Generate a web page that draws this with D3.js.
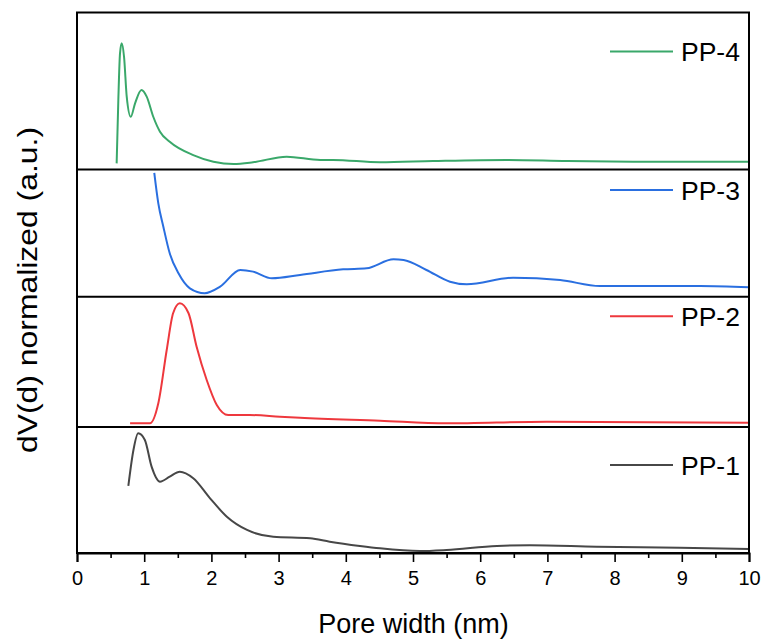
<!DOCTYPE html>
<html>
<head>
<meta charset="utf-8">
<script src="https://cdn.jsdelivr.net/npm/d3@7"></script>
<style>
  body { margin: 0; background: #fff; }
  text { font-family: "Liberation Sans", Arial, sans-serif; fill: #000; }
</style>
</head>
<body>
<div id="chart"></div>
<script>
var width = 767,
    height = 640,
    margin = { top: 12.5, right: 18, bottom: 87, left: 77 };

// pore width (nm) and normalized dV(d) for each sample
var pp4Width = [0.59, 0.615, 0.64, 0.665, 0.70, 0.74, 0.80, 0.863, 0.96, 1.037, 1.135, 1.235, 1.38, 1.73, 2.03, 2.33, 2.62, 3.12, 3.62, 3.81, 4.51, 5.30, 6.39, 7.29, 8.28, 10];
var pp4Value = [0.039, 0.443, 0.74, 0.804, 0.718, 0.464, 0.336, 0.42, 0.506, 0.464, 0.336, 0.241, 0.177, 0.092, 0.050, 0.035, 0.046, 0.082, 0.061, 0.061, 0.046, 0.054, 0.061, 0.054, 0.050, 0.050];

var pp3Width = [1.15, 1.21, 1.285, 1.38, 1.51, 1.68, 1.90, 2.13, 2.43, 2.62, 2.90, 3.32, 3.96, 4.31, 4.71, 4.86, 5.20, 5.55, 5.80, 6.49, 7.19, 7.78, 9.27, 10];
var pp3Value = [0.974, 0.734, 0.550, 0.341, 0.184, 0.066, 0.027, 0.079, 0.210, 0.197, 0.145, 0.171, 0.215, 0.223, 0.294, 0.289, 0.210, 0.118, 0.097, 0.149, 0.131, 0.084, 0.084, 0.074];

var pp2Width = [0.79, 1.086, 1.21, 1.335, 1.43, 1.53, 1.66, 1.78, 1.93, 2.08, 2.25, 2.57, 3.02, 3.32, 4.51, 5.50, 6.99, 10];
var pp2Value = [0.028, 0.028, 0.182, 0.591, 0.873, 0.949, 0.873, 0.616, 0.361, 0.169, 0.092, 0.092, 0.079, 0.071, 0.048, 0.028, 0.041, 0.033];

var pp1Width = [0.764, 0.84, 0.91, 1.01, 1.11, 1.235, 1.38, 1.53, 1.73, 1.98, 2.23, 2.53, 2.92, 3.47, 3.76, 4.21, 4.51, 5.10, 5.50, 6.25, 6.74, 7.73, 8.97, 10];
var pp1Value = [0.532, 0.817, 0.950, 0.897, 0.685, 0.566, 0.606, 0.645, 0.593, 0.434, 0.288, 0.183, 0.129, 0.117, 0.090, 0.056, 0.037, 0.016, 0.024, 0.056, 0.061, 0.050, 0.042, 0.032];

var sampleNames = ["PP-4", "PP-3", "PP-2", "PP-1"];
var sampleColors = ["#3aa86a", "#2a6fe0", "#ee383d", "#474747"];
var xTicks = [0, 1, 2, 3, 4, 5, 6, 7, 8, 9, 10];

var series = [
    { name: sampleNames[0], color: sampleColors[0], w: pp4Width, v: pp4Value },
    { name: sampleNames[1], color: sampleColors[1], w: pp3Width, v: pp3Value },
    { name: sampleNames[2], color: sampleColors[2], w: pp2Width, v: pp2Value },
    { name: sampleNames[3], color: sampleColors[3], w: pp1Width, v: pp1Value }
];

// stacked panels (pixel boundaries, top to bottom) and legend offsets
var panelEdges = [12.5, 169.5, 296.7, 427, 553];
var legendOffset = [39, 20.5, 19.5, 38];

var x = d3.scaleLinear()
    .domain([0, 10])
    .range([margin.left, width - margin.right]);

var svg = d3.select("#chart").append("svg")
    .attr("width", width)
    .attr("height", height);

series.forEach(function (s, i) {
    var y = d3.scaleLinear()
        .domain([0, 1])
        .range([panelEdges[i + 1], panelEdges[i]]);

    var line = d3.line()
        .x(function (d) { return x(d[0]); })
        .y(function (d) { return y(d[1]); })
        .curve(d3.curveMonotoneX);

    svg.append("path")
        .datum(d3.zip(s.w, s.v))
        .attr("fill", "none")
        .attr("stroke", s.color)
        .attr("stroke-width", 2)
        .attr("stroke-linejoin", "round")
        .attr("d", line);

    var ly = panelEdges[i] + legendOffset[i];
    svg.append("line")
        .attr("x1", 610).attr("x2", 673)
        .attr("y1", ly).attr("y2", ly)
        .attr("stroke", s.color)
        .attr("stroke-width", 2);
    svg.append("text")
        .attr("x", 681)
        .attr("y", ly + 9.5)
        .attr("font-size", 26.5)
        .text(s.name);

    // separator between panels
    if (i > 0) {
        svg.append("line")
            .attr("x1", x(0)).attr("x2", x(10))
            .attr("y1", panelEdges[i]).attr("y2", panelEdges[i])
            .attr("stroke", "#000")
            .attr("stroke-width", 2);
    }
});

// frame
svg.append("rect")
    .attr("x", x(0))
    .attr("y", panelEdges[0])
    .attr("width", x(10) - x(0))
    .attr("height", panelEdges[4] - panelEdges[0])
    .attr("fill", "none")
    .attr("stroke", "#000")
    .attr("stroke-width", 2);

// minor ticks
svg.append("g")
    .attr("transform", "translate(0," + panelEdges[4] + ")")
    .call(d3.axisBottom(x)
        .tickValues(d3.range(0.5, 10, 1))
        .tickSize(5)
        .tickFormat(""))
    .call(function (g) { g.select(".domain").remove(); })
    .selectAll("line").attr("stroke-width", 1.6);

var xAxis = svg.append("g")
    .attr("transform", "translate(0," + panelEdges[4] + ")")
    .call(d3.axisBottom(x)
        .tickValues(xTicks)
        .tickSize(9)
        .tickPadding(9)
        .tickFormat(d3.format("d")));
xAxis.select(".domain").attr("stroke-width", 2);
xAxis.selectAll("line").attr("stroke-width", 1.6);
xAxis.selectAll("text")
    .attr("font-size", 20)
    .attr("font-family", "Liberation Sans, Arial, sans-serif")
    .attr("fill", "#000");

svg.append("text")
    .attr("x", (x(0) + x(10)) / 2 + 0.5)
    .attr("y", 633)
    .attr("text-anchor", "middle")
    .attr("font-size", 27)
    .text("Pore width (nm)");

svg.append("text")
    .attr("transform", "translate(37," + 290 + ") rotate(-90)")
    .attr("text-anchor", "middle")
    .attr("font-size", 27)
    .attr("textLength", 326)
    .attr("lengthAdjust", "spacingAndGlyphs")
    .text("dV(d) normalized (a.u.)");
</script>
</body>
</html>
